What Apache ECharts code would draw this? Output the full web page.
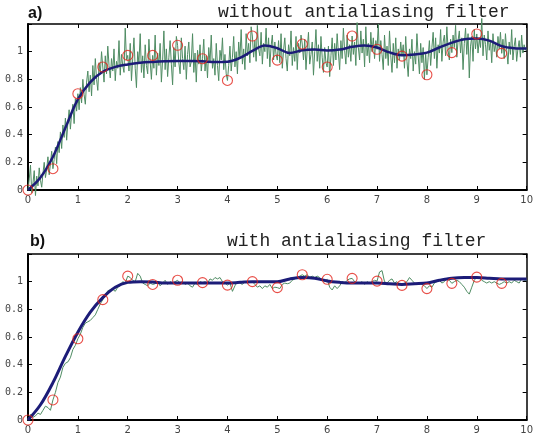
<!DOCTYPE html>
<html><head><meta charset="utf-8">
<script src="https://cdn.jsdelivr.net/npm/echarts@6/dist/echarts.min.js"></script>
<style>html,body{margin:0;padding:0;background:#fff}#c{width:536px;height:435px}</style>
</head><body><div id="c"></div>
<script>
// ---- data ----
const greenStepA = 0.025; // noisy signal sample spacing, panel a
const greenStepB = 0.05;  // noisy signal sample spacing, panel b
const blueStep = 0.25;    // smooth curve spacing
const sampleStep = 0.5;   // red circle sample spacing
const xTickValues = [0,1,2,3,4,5,6,7,8,9,10];
const yTickLabels = ['0','0.2','0.4','0.6','0.8','1'];
const titleA = 'without antialiasing filter';
const titleB = 'with antialiasing filter';

// (a) without antialiasing filter
const greenA = [
 0, 0.08, 0.18, -0.02, 0.05, 0.14, -0.04, 0.10, 0.03, 0.16, 0.07, 0.02, 0.12, 0.20, 0.09, 0.15, 0.24, 0.11, 0.19, 0.28,
 0.154, 0.22, 0.31, 0.19, 0.35, 0.27, 0.42, 0.30, 0.47, 0.38, 0.52, 0.36, 0.49, 0.58, 0.44, 0.55, 0.62, 0.48, 0.66, 0.57,
 0.696, 0.58, 0.74, 0.63, 0.80, 0.69, 0.62, 0.78, 0.86, 0.71, 0.83, 0.68, 0.90, 0.76, 0.95, 0.80, 0.72, 0.92, 0.84, 1.00,
 0.889, 0.78, 0.97, 0.84, 1.04, 0.90, 0.81, 0.95, 0.86, 1.02, 0.79, 0.93, 0.88, 1.08, 0.83, 0.98, 0.90, 0.85, 1.17, 0.94,
 0.973, 0.86, 1.06, 0.79, 0.95, 1.10, 0.88, 0.74, 1.00, 0.92, 1.13, 0.85, 0.97, 0.81, 1.05, 0.90, 0.84, 1.09, 0.93, 0.80,
 0.973, 0.88, 1.12, 0.83, 0.99, 0.90, 1.06, 0.78, 0.94, 1.15, 0.87, 1.02, 0.82, 0.96, 1.08, 0.91, 0.76, 1.03, 0.89, 1.11,
 1.046, 0.92, 0.84, 1.10, 0.95, 0.87, 1.04, 0.80, 0.98, 1.07, 0.89, 0.93, 1.13, 0.85, 0.99, 0.78, 1.01, 0.91, 1.05, 0.86,
 0.949, 1.09, 0.86, 0.97, 0.81, 1.03, 0.92, 1.12, 0.88, 0.95, 0.83, 1.06, 0.90, 0.79, 1.01, 0.94, 1.10, 0.87, 0.98, 0.84,
 0.792, 0.90, 1.04, 0.86, 0.96, 1.11, 0.89, 1.00, 0.84, 1.07, 0.95, 1.16, 0.91, 1.02, 0.87, 1.13, 0.97, 1.06, 0.92, 1.18,
 1.113, 0.96, 1.08, 0.93, 1.19, 1.02, 0.97, 1.14, 0.91, 1.06, 1.00, 1.17, 0.95, 1.10, 0.89, 1.04, 1.12, 0.94, 1.07, 0.98,
 0.939, 1.08, 0.92, 1.13, 0.88, 1.01, 1.10, 0.95, 0.86, 1.05, 0.97, 1.15, 0.90, 1.03, 0.93, 1.11, 0.87, 1.06, 0.99, 1.12,
 1.055, 0.94, 1.09, 0.87, 1.02, 1.14, 0.91, 0.98, 1.07, 0.83, 1.00, 1.16, 0.93, 1.05, 0.88, 1.11, 0.96, 0.85, 1.03, 0.92,
 0.889, 1.04, 0.82, 0.97, 1.10, 0.90, 1.06, 0.94, 1.13, 0.99, 0.87, 1.08, 0.95, 1.17, 1.01, 0.91, 1.12, 0.96, 1.05, 0.93,
 1.113, 0.98, 1.07, 0.90, 1.21, 1.03, 0.94, 1.15, 0.99, 1.09, 0.89, 1.18, 0.97, 1.06, 0.92, 1.14, 1.00, 1.10, 0.95, 1.08,
 1.017, 1.20, 0.93, 1.08, 0.98, 0.87, 1.12, 0.95, 1.04, 0.90, 1.15, 0.97, 0.85, 1.06, 0.92, 1.10, 0.88, 1.02, 0.94, 1.07,
 0.968, 1.05, 0.88, 1.11, 0.93, 0.82, 1.02, 0.95, 1.09, 0.86, 1.00, 0.91, 1.13, 0.97, 0.84, 1.06, 0.92, 1.03, 0.80, 0.99,
 0.833, 0.96, 1.08, 0.90, 1.03, 1.14, 0.95, 1.10, 0.88, 1.05, 0.99, 1.16, 0.93, 1.07, 1.12, 0.97, 1.18, 1.01, 0.94, 1.09,
 0.993, 1.12, 1.03, 1.19, 0.96, 1.08, 1.15, 0.99, 1.10, 0.87, 1.06, 1.17, 0.98, 1.13, 0.81, 1.04, 1.11, 0.93, 1.16, 1.02,
 1.128, 0.99, 1.09, 1.03, 1.24, 0.97, 1.12, 1.05, 0.94, 1.15, 1.01, 1.08, 0.92, 1.13, 1.00, 1.06, 0.96, 1.11, 1.02, 1.14,
 0.988, 1.09, 0.95, 1.13, 1.01, 0.91, 1.07, 0.98, 1.16, 0.94, 1.04, 1.10, 0.93, 1.02, 1.08, 0.96, 1.12, 0.99, 1.05, 1.01,
 1.02
];
const blueA = [
 0, 0.09, 0.24, 0.45, 0.655, 0.78, 0.855, 0.89, 0.908, 0.92,
 0.926, 0.93, 0.932, 0.932, 0.93, 0.925, 0.927, 0.955, 1.005, 1.045,
 1.025, 0.99, 1.01, 1.015, 1.008, 1.015, 1.035, 1.045, 1.03, 0.995,
 0.975, 0.98, 0.993, 1.03, 1.065, 1.09, 1.095, 1.08, 1.04, 1.025,
 1.022
];
const samplesA = [
 0, 0.154, 0.696, 0.889, 0.973, 0.973, 1.046, 0.949, 0.792, 1.113,
 0.939, 1.055, 0.889, 1.113, 1.017, 0.968, 0.833, 0.993, 1.128, 0.988
];

// (b) with antialiasing filter
const greenB = [
 0, 0.04, 0.02, 0.03, 0.05, 0.04, 0.07, 0.10, 0.09, 0.07,
 0.145, 0.20, 0.27, 0.31, 0.38, 0.41, 0.42, 0.45, 0.51, 0.54,
 0.587, 0.62, 0.67, 0.70, 0.71, 0.72, 0.74, 0.76, 0.80, 0.84,
 0.87, 0.90, 0.935, 0.94, 0.945, 0.93, 0.96, 0.97, 1.00, 0.99,
 1.04, 1.03, 1.01, 1.00, 1.06, 1.04, 0.99, 0.98, 0.97, 0.99,
 0.98, 0.985, 1.00, 0.97, 0.99, 1.01, 0.98, 1.00, 0.99, 1.00,
 1.01, 0.99, 1.00, 0.98, 0.99, 0.97, 0.96, 0.99, 0.98, 1.00,
 0.993, 1.00, 0.99, 1.02, 1.01, 1.03, 1.02, 1.03, 1.00, 0.99,
 0.975, 0.99, 0.93, 0.97, 1.00, 0.99, 0.98, 1.00, 0.99, 1.00,
 1.00, 0.98, 0.96, 0.97, 0.95, 0.97, 0.96, 0.98, 0.95, 0.96,
 0.957, 0.95, 0.98, 0.99, 0.985, 0.99, 1.01, 1.02, 1.03, 1.04,
 1.05, 1.04, 1.05, 1.03, 1.04, 1.03, 1.04, 1.03, 1.01, 1.00,
 1.017, 0.96, 0.94, 0.97, 0.95, 0.97, 1.00, 0.99, 1.01, 1.02,
 1.024, 1.00, 0.99, 0.99, 1.00, 0.98, 1.00, 0.99, 1.00, 1.01,
 1.004, 1.07, 1.08, 1.00, 0.99, 1.01, 1.02, 0.99, 1.00, 0.98,
 0.973, 0.99, 1.00, 1.03, 1.01, 0.99, 0.98, 0.99, 0.98, 0.97,
 0.95, 0.97, 0.96, 0.99, 1.00, 1.01, 0.99, 1.00, 1.02, 1.01,
 0.988, 1.00, 1.01, 1.00, 0.98, 0.96, 0.93, 0.91, 0.96, 1.01,
 1.033, 1.03, 1.01, 1.00, 0.99, 1.00, 0.99, 1.00, 0.99, 0.98,
 0.988, 1.00, 0.99, 1.00, 0.99, 1.01, 1.00, 0.99, 1.02, 1.01,
 1.01
];
const blueB = [
 0, 0.11, 0.27, 0.46, 0.635, 0.78, 0.885, 0.96, 0.995, 1.0,
 0.998, 0.99, 0.99, 0.99, 0.99, 0.99, 0.99, 0.995, 1.0, 1.0,
 1.0, 1.02, 1.03, 1.025, 1.005, 0.995, 0.99, 0.99, 0.99, 0.985,
 0.98, 0.985, 0.99, 1.01, 1.025, 1.03, 1.03, 1.025, 1.02, 1.02,
 1.02
];
const samplesB = [
 0, 0.145, 0.587, 0.87, 1.04, 0.98, 1.01, 0.993, 0.975, 1.0,
 0.957, 1.05, 1.017, 1.024, 1.004, 0.973, 0.95, 0.988, 1.033, 0.988
];

// ---- chart ----
function pairs(arr, step) { return arr.map((v, i) => [+(i * step).toFixed(4), v]); }

const GREEN = '#4f8c63', BLUE = '#1c1c78', RED = '#e2231a';
const grids = [
  { left: 28, right: 6, top: 24, height: 166 },
  { left: 28, right: 6, top: 254, height: 167 }
];

const xAxes = [], yAxes = [], series = [];
[0, 1].forEach(g => {
  const baseX = {
    type: 'value', gridIndex: g, min: 0, max: 10, interval: 1,
    splitLine: { show: false },
    axisLine: { show: true, onZero: false, lineStyle: { color: '#000', width: 2 } },
    axisTick: { show: true, inside: true, length: 4, lineStyle: { color: '#000', width: 1 } }
  };
  xAxes.push(Object.assign({}, baseX, {
    position: 'bottom',
    axisLabel: { show: true, margin: 5, fontFamily: 'DejaVu Sans', fontSize: 10, color: '#444',
      formatter: v => xTickValues.includes(v) ? String(v) : '' }
  }));
  xAxes.push(Object.assign({}, baseX, {
    position: 'top',
    axisLine: { show: true, onZero: false, lineStyle: { color: '#000', width: 1.5 } },
    axisLabel: { show: false }
  }));
  const baseY = {
    type: 'value', gridIndex: g, min: 0, max: 1.2, interval: 0.2,
    splitLine: { show: false },
    axisLine: { show: true, onZero: false, lineStyle: { color: '#000', width: 2 } },
    axisTick: { show: true, inside: true, length: 4, lineStyle: { color: '#000', width: 1 } }
  };
  yAxes.push(Object.assign({}, baseY, {
    position: 'left',
    axisLabel: { show: true, margin: 5, fontFamily: 'DejaVu Sans Mono', fontSize: 10, color: '#444',
      formatter: v => { const k = Math.round(v / 0.2); return k < yTickLabels.length ? yTickLabels[k] : ''; } }
  }));
  yAxes.push(Object.assign({}, baseY, {
    position: 'right',
    axisLine: { show: true, onZero: false, lineStyle: { color: '#000', width: 1.5 } },
    axisLabel: { show: false }
  }));
});

const sets = [
  { green: greenA, gStep: greenStepA, blue: blueA, samples: samplesA, blueW: 2.5 },
  { green: greenB, gStep: greenStepB, blue: blueB, samples: samplesB, blueW: 3 }
];
sets.forEach((s, g) => {
  const xi = g * 2, yi = g * 2;
  series.push({
    type: 'line', xAxisIndex: xi, yAxisIndex: yi, data: pairs(s.green, s.gStep),
    showSymbol: false, clip: false, lineStyle: { color: GREEN, width: 1 }, z: 2, silent: true
  });
  series.push({
    type: 'line', xAxisIndex: xi, yAxisIndex: yi, data: pairs(s.blue, blueStep),
    showSymbol: false, smooth: 0.35, clip: false, lineStyle: { color: BLUE, width: s.blueW }, z: 3, silent: true
  });
  series.push({
    type: 'scatter', xAxisIndex: xi, yAxisIndex: yi, data: pairs(s.samples, sampleStep),
    symbol: 'circle', symbolSize: 10, clip: false,
    itemStyle: { color: 'rgba(0,0,0,0)', borderColor: RED, borderWidth: 1.1 }, z: 4, silent: true
  });
});

const chart = echarts.init(document.getElementById('c'), null, { renderer: 'canvas' });
chart.setOption({
  animation: false,
  backgroundColor: '#fff',
  grid: grids,
  xAxis: xAxes,
  yAxis: yAxes,
  series: series,
  graphic: [
    { type: 'text', left: 28, top: 6, style: { text: 'a)', font: 'bold 16px "Liberation Sans", Arial', fill: '#111' } },
    { type: 'text', left: 218, top: 3, style: { text: titleA, font: '18px "Liberation Mono", monospace', fill: '#222' } },
    { type: 'text', left: 30, top: 234, style: { text: 'b)', font: 'bold 16px "Liberation Sans", Arial', fill: '#111' } },
    { type: 'text', left: 227, top: 232, style: { text: titleB, font: '18px "Liberation Mono", monospace', fill: '#222' } }
  ]
});
</script>
</body></html>
